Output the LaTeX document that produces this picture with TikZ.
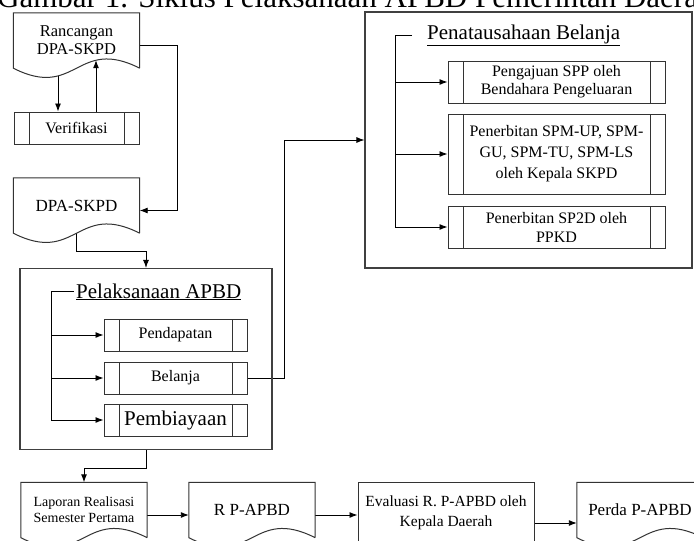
\documentclass[tikz,border=0pt]{standalone}
\usepackage{fontspec}
\setmainfont{Liberation Serif}
\usetikzlibrary{arrows.meta}
\usetikzlibrary{calc}
\pgfdeclarelayer{edgelayer}
\pgfdeclarelayer{nodelayer}
\pgfsetlayers{edgelayer,nodelayer,main}
\tikzstyle{caption}=[anchor=base west,inner sep=0pt,font=\fontsize{31}{34}\selectfont]
\tikzstyle{heading}=[anchor=base west,inner sep=2pt,font=\fontsize{21}{24}\selectfont]
\tikzstyle{container}=[rectangle,draw=black!75,line width=1.1pt,inner sep=0pt]
\tikzstyle{process}=[rectangle,draw=black!80,line width=1pt,inner sep=0pt,align=center,font=\fontsize{16}{18}\selectfont]
\tikzstyle{subprocess}=[process,path picture={
	\draw [line width=1pt] ([xshift=15pt]path picture bounding box.north west) -- ([xshift=15pt]path picture bounding box.south west);
	\draw [line width=1pt] ([xshift=-15pt]path picture bounding box.north east) -- ([xshift=-15pt]path picture bounding box.south east);}]
\tikzstyle{doc_shape}=[rectangle,inner sep=0pt,align=center,minimum width=126pt,minimum height=55pt]
\tikzstyle{doc_line}=[draw=black!80,line width=1pt]
\tikzstyle{transition}=[-{Latex[length=8pt,width=6pt]},draw=black,line width=0.9pt]

\begin{document}
\begin{tikzpicture}[x=1pt,y=-1pt]
	\useasboundingbox (0, 0) rectangle (694, 541);
	\begin{pgfonlayer}{nodelayer}
		\node [style=caption] (0) at (-3, 7) {Gambar 1. Siklus Pelaksanaan APBD Pemerintah Daerah};
		\node [style={doc_shape}, font=\fontsize{16.5}{18}\selectfont] (1) at (76.5, 40.5) {Rancangan\\DPA-SKPD};
		\node [style=subprocess, minimum width=125pt, minimum height=32pt] (2) at (76.5, 128) {Verifikasi};
		\node [style={doc_shape}, font=\fontsize{17}{18}\selectfont] (3) at (76.5, 205.5) {DPA-SKPD};
		\node [style=container, minimum width=252pt, minimum height=181pt] (4) at (146, 359) {};
		\node [style=heading] (5) at (74, 298) {\underline{Pelaksanaan APBD}};
		\node [style=subprocess, minimum width=143pt, minimum height=32pt] (6) at (175.5, 335) {Pendapatan};
		\node [style=subprocess, minimum width=143pt, minimum height=32pt] (7) at (175.5, 378) {Belanja};
		\node [style=subprocess, minimum width=143pt, minimum height=32pt, font=\fontsize{21}{24}\selectfont] (8) at (175.5, 420) {Pembiayaan};
		\node [style=container, minimum width=327pt, minimum height=256pt] (9) at (528.5, 140) {};
		\node [style=heading] (10) at (425, 39) {\underline{Penatausahaan Belanja}};
		\node [style=subprocess, minimum width=217pt, minimum height=42pt] (11) at (556.5, 82) {Pengajuan SPP oleh\\Bendahara Pengeluaran};
		\node [style=subprocess, minimum width=217pt, minimum height=80pt, font=\fontsize{16}{21}\selectfont] (12) at (556.5, 154) {Penerbitan SPM-UP, SPM-\\GU, SPM-TU, SPM-LS\\oleh Kepala SKPD};
		\node [style=subprocess, minimum width=217pt, minimum height=42pt, font=\fontsize{16}{19}\selectfont] (13) at (556.5, 227) {Penerbitan SP2D oleh\\PPKD};
		\node [style={doc_shape}, font=\fontsize{14}{16}\selectfont] (14) at (84, 510) {Laporan Realisasi\\Semester Pertama};
		\node [style={doc_shape}, font=\fontsize{17}{18}\selectfont] (15) at (252, 510) {R P-APBD};
		\node [style=process, minimum width=176pt, minimum height=62pt, font=\fontsize{15.5}{20}\selectfont] (16) at (446, 513) {Evaluasi R. P-APBD oleh\\Kepala Daerah};
		\node [style={doc_shape}, font=\fontsize{17}{18}\selectfont] (17) at (640, 510) {Perda P-APBD};
		% document outlines
		\foreach \n in {1,3,14,15,17}
			\draw [style={doc_line}] (\n.south east) -- (\n.north east) -- (\n.north west) -- (\n.south west)
				.. controls ($(\n.south)+(0,32)$) and ($(\n.south)+(0,-32)$) .. (\n.south east);
	\end{pgfonlayer}
	\begin{pgfonlayer}{edgelayer}
		\coordinate (c1) at ($(5.west)+(-23,0)$);
		\coordinate (c2) at ($(10.west)+(-30,0)$);
		\draw [style=transition] ([xshift=-18.5pt,yshift=-7.8pt]1.south) to ([xshift=-18.5pt]2.north);
		\draw [style=transition] ([xshift=19.5pt]2.north) to ([xshift=19.5pt,yshift=8pt]1.south);
		\draw [style=transition] ([yshift=-5pt]1.east) -- ++(38,0) |- ([yshift=-5pt]3.east);
		\draw [style=transition] (3.south) -- ++(0,18) -| (4.north);
		\draw [style=transition] (5.west) -- (c1) |- (8.west);
		\draw [style=transition] (c1 |- 6.west) to (6.west);
		\draw [style=transition] (c1 |- 7.west) to (7.west);
		\draw [style=transition] (7.east) -- ++(37,0) |- (9.west);
		\draw [style=transition] ([xshift=-13pt]10.west) -- (c2) |- (13.west);
		\draw [style=transition] (c2 |- 11.west) to (11.west);
		\draw [style=transition] (c2 |- 12.west) to (12.west);
		\draw [style=transition] (4.south) -- ++(0,18) -| (14.north);
		\draw [style=transition] ([yshift=-5pt]14.east) to ([yshift=-5pt]15.west);
		\draw [style=transition] ([yshift=-5pt]15.east) to ([yshift=-5pt]15.east -| 16.west);
		\draw [style=transition] ([yshift=-10pt]16.east) to ([yshift=-10pt]16.east -| 17.west);
	\end{pgfonlayer}
\end{tikzpicture}
\end{document}
